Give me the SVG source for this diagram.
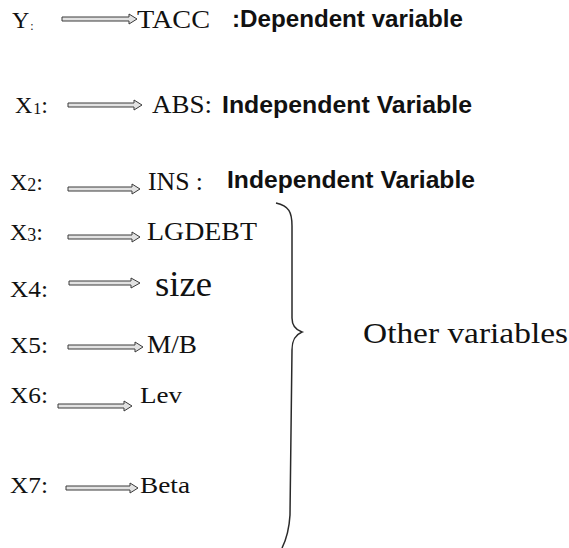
<svg xmlns="http://www.w3.org/2000/svg" width="569" height="548" viewBox="0 0 569 548">
<style>
.tm{font-family:"Liberation Serif","Times New Roman",serif;fill:#111;}
.ab{font-family:"Liberation Sans",Arial,sans-serif;font-weight:bold;fill:#111;}
.arr{fill:#e2e2e2;stroke:#3a3a3a;stroke-width:1;stroke-linejoin:miter;}
.brace{fill:none;stroke:#2a2a2a;stroke-width:1.5;}
</style>
<rect width="569" height="548" fill="#ffffff"/>
<g id="connectors">
<path class="arr" d="M62,17 H129 V14 L137,19 L129,24 V21 H62 Z"/>
<path class="arr" d="M68,103 H134 V100 L142,105 L134,110 V107 H68 Z"/>
<path class="arr" d="M68,187 H132 V184 L140,189 L132,194 V191 H68 Z"/>
<path class="arr" d="M68,235 H132 V232 L140,237 L132,242 V239 H68 Z"/>
<path class="arr" d="M69,281 H131 V278 L140,283 L131,288 V285 H69 Z"/>
<path class="arr" d="M68,345 H135 V342 L143,347 L135,352 V349 H68 Z"/>
<path class="arr" d="M58,404 H124 V401 L132,406 L124,411 V408 H58 Z"/>
<path class="arr" d="M66,486 H130 V483 L138,488 L130,493 V490 H66 Z"/>
</g>
<g id="row-y">
<text class="tm" x="12" y="28" font-size="24">Y<tspan font-size="12" dx="1" dy="2">:</tspan></text>
<text class="tm" x="137" y="28" font-size="25" textLength="73" lengthAdjust="spacingAndGlyphs">TACC</text>
<text class="ab" x="232" y="27" font-size="23" textLength="231" lengthAdjust="spacingAndGlyphs">:Dependent variable</text>
</g>
<g id="row-x1">
<text class="tm" x="15" y="113" font-size="24">X<tspan font-size="16" dx="1" dy="1">1</tspan><tspan dy="-1">:</tspan></text>
<text class="tm" x="152" y="113" font-size="25" textLength="60" lengthAdjust="spacingAndGlyphs">ABS:</text>
<text class="ab" x="222" y="113" font-size="24" textLength="250" lengthAdjust="spacingAndGlyphs">Independent Variable</text>
</g>
<g id="row-x2">
<text class="tm" x="10" y="190" font-size="24">X<tspan font-size="18" dy="1">2</tspan><tspan dy="-1">:</tspan></text>
<text class="tm" x="148" y="190" font-size="25" textLength="55" lengthAdjust="spacingAndGlyphs">INS :</text>
<text class="ab" x="227" y="188" font-size="24" textLength="248" lengthAdjust="spacingAndGlyphs">Independent Variable</text>
</g>
<g id="row-x3">
<text class="tm" x="10" y="240" font-size="24">X<tspan font-size="18" dy="1">3</tspan><tspan dy="-1">:</tspan></text>
<text class="tm" x="147" y="240" font-size="25" textLength="110" lengthAdjust="spacingAndGlyphs">LGDEBT</text>
</g>
<g id="row-x4">
<text class="tm" x="10" y="297" font-size="24" textLength="38" lengthAdjust="spacingAndGlyphs">X4:</text>
<text class="tm" x="155" y="296" font-size="35" textLength="57" lengthAdjust="spacingAndGlyphs">size</text>
</g>
<g id="row-x5">
<text class="tm" x="10" y="353" font-size="24" textLength="38" lengthAdjust="spacingAndGlyphs">X5:</text>
<text class="tm" x="147" y="353" font-size="25" textLength="50" lengthAdjust="spacingAndGlyphs">M/B</text>
</g>
<g id="row-x6">
<text class="tm" x="10" y="403" font-size="24" textLength="38" lengthAdjust="spacingAndGlyphs">X6:</text>
<text class="tm" x="140" y="403" font-size="24" textLength="42" lengthAdjust="spacingAndGlyphs">Lev</text>
</g>
<g id="row-x7">
<text class="tm" x="10" y="493" font-size="24" textLength="38" lengthAdjust="spacingAndGlyphs">X7:</text>
<text class="tm" x="140" y="493" font-size="24" textLength="50" lengthAdjust="spacingAndGlyphs">Beta</text>
</g>
<g id="brace-group">
<path class="brace" d="M276,203 C289,206 292,212 292,226 L292,318 C292,326 296,330 302,332 C295,335 292,340 292,350 L290,515 C289,532 286,540 282,548"/>
<text class="tm" x="363" y="343" font-size="30" textLength="205" lengthAdjust="spacingAndGlyphs">Other variables</text>
</g>
</svg>
